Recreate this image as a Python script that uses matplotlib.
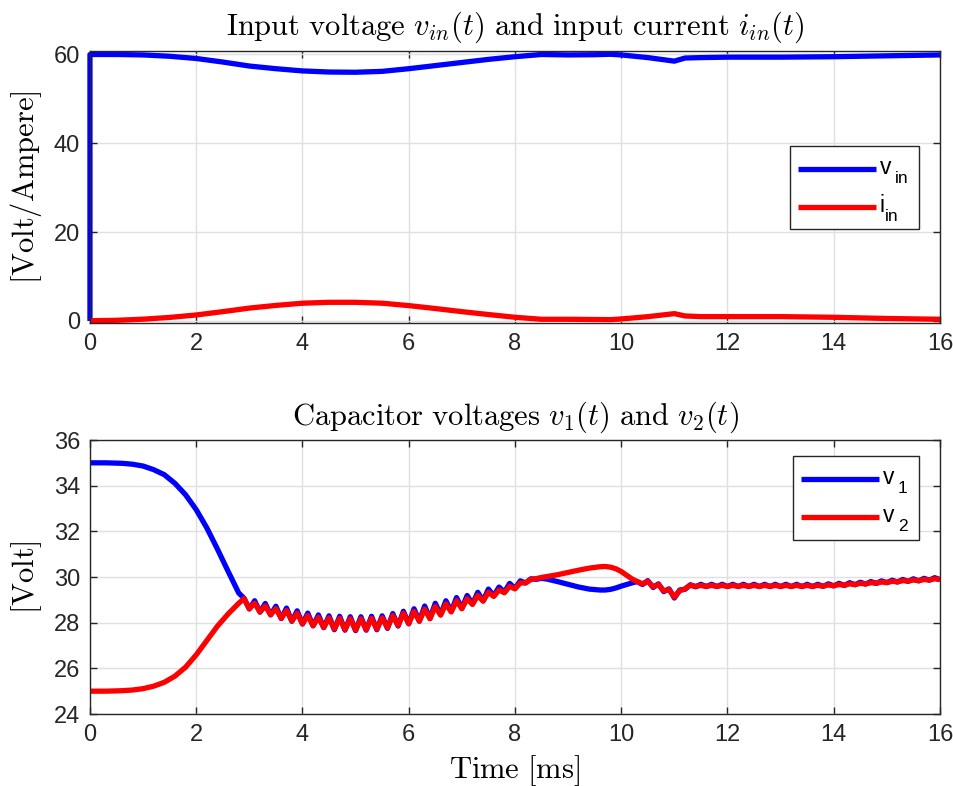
import matplotlib
matplotlib.use("Agg")
import matplotlib.pyplot as plt
from matplotlib.lines import Line2D
from matplotlib.patches import Rectangle
import numpy as np

plt.rcParams["font.family"] = ["Liberation Sans", "DejaVu Sans"]
plt.rcParams["mathtext.fontset"] = "custom"
plt.rcParams["mathtext.rm"] = "Liberation Sans"
plt.rcParams["mathtext.it"] = "Liberation Sans:italic"

# ---- input side: voltage and current [V], [A] vs time [ms]
t_in = [0, 0, 0.5, 1, 1.5, 2, 2.5, 3, 3.5, 4, 4.5, 5, 5.5, 6, 6.5, 7, 7.5, 8,
        8.5, 9, 9.5, 9.8, 10, 10.5, 11, 11.2, 11.5, 12, 13, 14, 15, 16]
v_in = [0, 60.0, 60.0, 59.9, 59.6, 59.1, 58.3, 57.4, 56.8, 56.3, 56.05, 56.0,
        56.2, 56.8, 57.5, 58.2, 58.9, 59.5, 60.0, 59.9, 59.95, 60.05, 59.9,
        59.3, 58.5, 59.2, 59.3, 59.4, 59.4, 59.5, 59.7, 59.9]
i_in = [0.05, 0.05, 0.15, 0.4, 0.8, 1.35, 2.1, 2.9, 3.5, 4.0, 4.2, 4.2, 4.0,
        3.46, 2.8, 2.1, 1.45, 0.83, 0.38, 0.38, 0.33, 0.3, 0.45, 0.97, 1.65,
        1.13, 0.98, 0.98, 0.98, 0.83, 0.56, 0.38]

# ---- capacitor voltages [V] vs time [ms]
t_cap = [0, 0.3, 0.6, 0.8, 1.0, 1.2, 1.4, 1.6, 1.8, 2.0, 2.2, 2.4, 2.6, 2.8,
         2.9, 3.0, 3.1, 3.2, 3.3, 3.4, 3.5, 3.6, 3.7, 3.8, 3.9,
         4.0, 4.1, 4.2, 4.3, 4.4, 4.5, 4.6, 4.7, 4.8, 4.9,
         5.0, 5.1, 5.2, 5.3, 5.4, 5.5, 5.6, 5.7, 5.8, 5.9,
         6.0, 6.1, 6.2, 6.3, 6.4, 6.5, 6.6, 6.7, 6.8, 6.9,
         7.0, 7.1, 7.2, 7.3, 7.4, 7.5, 7.6, 7.7, 7.8, 7.9,
         8.0, 8.1, 8.2, 8.3, 8.4, 8.5, 8.6, 8.8, 9.0, 9.2, 9.4, 9.6, 9.7,
         9.8, 9.9, 10.0, 10.1, 10.2,
         10.3, 10.4, 10.5, 10.6, 10.7, 10.8, 10.9,
         11.0, 11.1, 11.2, 11.3, 11.4, 11.5, 11.6, 11.7, 11.8, 11.9,
         12.0, 12.1, 12.2, 12.3, 12.4, 12.5, 12.6, 12.7, 12.8, 12.9,
         13.0, 13.1, 13.2, 13.3, 13.4, 13.5, 13.6, 13.7, 13.8, 13.9,
         14.0, 14.1, 14.2, 14.3, 14.4, 14.5, 14.6, 14.7, 14.8, 14.9,
         15.0, 15.1, 15.2, 15.3, 15.4, 15.5, 15.6, 15.7, 15.8, 15.9, 16.0]

v_1 = [35.0, 35.0, 34.98, 34.94, 34.86, 34.70, 34.48, 34.10, 33.60, 32.95,
       32.15, 31.22, 30.25, 29.30,
       29.07, 28.60, 28.96, 28.46, 28.84, 28.34, 28.72, 28.18, 28.64, 28.06, 28.52,
       27.94, 28.42, 27.86, 28.34, 27.78, 28.30, 27.69, 28.28, 27.67, 28.26,
       27.65, 28.26, 27.67, 28.28, 27.69, 28.30, 27.75, 28.40, 27.85, 28.50,
       27.95, 28.61, 28.07, 28.73, 28.19, 28.85, 28.35, 28.96, 28.49, 29.10,
       28.63, 29.19, 28.82, 29.33, 28.96, 29.47, 29.18, 29.56, 29.34, 29.72,
       29.50, 29.83, 29.74, 29.92, 29.90, 29.94, 29.91, 29.80, 29.68, 29.56,
       29.47, 29.43, 29.43, 29.46, 29.52, 29.60, 29.67, 29.74,
       29.80, 29.67, 29.84, 29.54, 29.70, 29.36, 29.48,
       29.08, 29.43, 29.46, 29.66, 29.57, 29.68, 29.58, 29.68, 29.58, 29.68,
       29.58, 29.68, 29.58, 29.68, 29.58, 29.68, 29.58, 29.68, 29.58, 29.68,
       29.58, 29.68, 29.58, 29.68, 29.58, 29.68, 29.58, 29.68, 29.59, 29.70,
       29.61, 29.72, 29.63, 29.75, 29.66, 29.77, 29.69, 29.80, 29.72, 29.83,
       29.75, 29.86, 29.78, 29.89, 29.81, 29.92, 29.83, 29.94, 29.86, 29.97, 29.88]

v_2 = [25.0, 25.0, 25.02, 25.05, 25.11, 25.22, 25.39, 25.66, 26.05, 26.59,
       27.22, 27.85, 28.38, 28.85,
       29.05, 28.61, 28.85, 28.47, 28.73, 28.35, 28.61, 28.19, 28.53, 28.07, 28.41,
       27.95, 28.31, 27.87, 28.23, 27.79, 28.21, 27.72, 28.19, 27.70, 28.17,
       27.68, 28.17, 27.70, 28.19, 27.72, 28.21, 27.78, 28.31, 27.88, 28.41,
       27.96, 28.49, 28.06, 28.59, 28.17, 28.71, 28.33, 28.82, 28.47, 28.96,
       28.61, 29.05, 28.80, 29.19, 28.94, 29.33, 29.15, 29.43, 29.31, 29.59,
       29.48, 29.74, 29.74, 29.89, 29.93, 29.98, 30.02, 30.10, 30.20, 30.30,
       30.39, 30.45, 30.46, 30.43, 30.36, 30.24, 30.08, 29.92,
       29.80, 29.70, 29.81, 29.57, 29.67, 29.39, 29.45,
       29.12, 29.40, 29.48, 29.64, 29.59, 29.63, 29.59, 29.63, 29.59, 29.63,
       29.59, 29.63, 29.59, 29.63, 29.59, 29.63, 29.59, 29.63, 29.59, 29.63,
       29.59, 29.63, 29.59, 29.63, 29.59, 29.63, 29.59, 29.63, 29.60, 29.65,
       29.62, 29.67, 29.64, 29.70, 29.67, 29.72, 29.70, 29.75, 29.73, 29.78,
       29.76, 29.81, 29.79, 29.84, 29.82, 29.87, 29.84, 29.89, 29.87, 29.92, 29.89]

x_ticks = [0, 2, 4, 6, 8, 10, 12, 14, 16]
top_yticks = [0, 20, 40, 60]
bot_yticks = [24, 26, 28, 30, 32, 34, 36]

BLUE = (0, 0, 1)
RED = (1, 0, 0)
AX_COL = (0.15, 0.15, 0.15)
LW = 3.8
TICK_FS = 17
LABEL_FS = 22

FIG_W, FIG_H = 954, 786
fig = plt.figure(figsize=(FIG_W / 100, FIG_H / 100), dpi=100)
ax1 = fig.add_axes([0.0943, 0.5891, 0.8910, 0.3461])
ax2 = fig.add_axes([0.0943, 0.0916, 0.8910, 0.3486])


def style(ax):
    for s in ax.spines.values():
        s.set_color(AX_COL)
        s.set_linewidth(1.0)
    ax.grid(True, color=(0.88, 0.88, 0.88), linewidth=1.0)
    ax.set_axisbelow(True)
    ax.tick_params(direction="in", length=5, width=1.0, colors=AX_COL,
                   labelsize=TICK_FS, top=True, right=True, pad=7)
    ax.set_xlim(0, 16)
    ax.set_xticks(x_ticks)


# Top: input voltage and current
ax1.plot(t_in, v_in, color=BLUE, lw=LW, solid_capstyle="butt", clip_on=False)
ax1.plot(t_in, i_in, color=RED, lw=LW, solid_capstyle="butt")
style(ax1)
ax1.set_ylim(-0.45, 60.8)
ax1.set_yticks(top_yticks)
ax1.set_title(r"$\mathrm{Input\ voltage\ }v_{in}(t)\mathrm{\ and\ input\ current\ }i_{in}(t)$",
              fontsize=LABEL_FS, math_fontfamily="cm", pad=12, color="black")
ax1.set_ylabel(r"$[\mathrm{Volt/Ampere}]$", fontsize=LABEL_FS,
               math_fontfamily="cm", labelpad=7)

# Bottom: capacitor voltages
ax2.plot(t_cap, v_1, color=BLUE, lw=LW, solid_capstyle="butt")
ax2.plot(t_cap, v_2, color=RED, lw=LW, solid_capstyle="butt")
style(ax2)
ax2.set_ylim(24, 36)
ax2.set_yticks(bot_yticks)
ax2.set_title(r"$\mathrm{Capacitor\ voltages\ }v_1(t)\mathrm{\ and\ }v_2(t)$",
              fontsize=LABEL_FS, math_fontfamily="cm", pad=11, color="black")
ax2.set_ylabel(r"$[\mathrm{Volt}]$", fontsize=LABEL_FS, math_fontfamily="cm",
               labelpad=7)
ax2.set_xlabel(r"$\mathrm{Time\ [ms]}$", fontsize=LABEL_FS,
               math_fontfamily="cm", labelpad=5)


# Legend box in the style of a TeX-interpreted legend: main letter with a
# low-set subscript.  Geometry given in figure pixels (origin top-left).
def px(x, y):
    return x / FIG_W, 1 - y / FIG_H


def legend_box(left, top, right, bottom, entries):
    x0, y1 = px(left, top)
    x1, y0 = px(right, bottom)
    fig.add_artist(Rectangle((x0, y0), x1 - x0, y1 - y0, transform=fig.transFigure,
                             facecolor="white", edgecolor=AX_COL, lw=1.0,
                             zorder=5))
    for (ly, color, main, sub, sub_dx) in entries:
        a = px(left + 8, ly)
        b = px(left + 86, ly)
        fig.add_artist(Line2D([a[0], b[0]], [a[1], b[1]], color=color, lw=LW,
                              solid_capstyle="butt", transform=fig.transFigure,
                              zorder=6))
        tx, ty = px(left + 90, ly + 5)
        fig.text(tx, ty, main, fontsize=16.5, color="black", va="baseline",
                 ha="left", zorder=7)
        sx, sy = px(left + 90 + sub_dx, ly + 14)
        fig.text(sx, sy, sub, fontsize=12.5, color="black", va="baseline",
                 ha="left", zorder=7)


legend_box(790, 146, 919, 229,
           [(169, BLUE, "v", "in", 15), (207, RED, "i", "in", 5)])
legend_box(793, 456, 919, 540,
           [(479, BLUE, "v", "1", 15), (517, RED, "v", "2", 15)])

fig.savefig("out.png", dpi=100)
